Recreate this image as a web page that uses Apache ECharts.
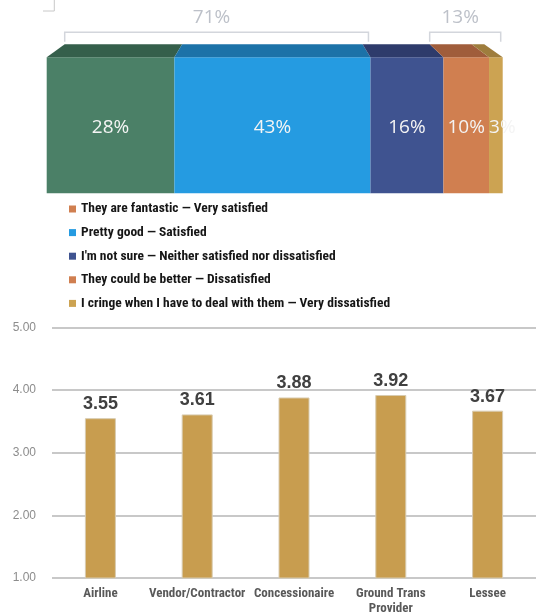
<!DOCTYPE html>
<html><head><meta charset="utf-8">
<script src="https://cdn.jsdelivr.net/npm/echarts@6/dist/echarts.min.js"></script>
<style>html,body{margin:0;padding:0;background:#fff}#c{width:536px;height:616px}</style>
</head><body><div id="c"></div>
<script>
// ---------- data ----------
const segNames = [
  'They are fantastic \u2014 Very satisfied',
  'Pretty good \u2014 Satisfied',
  "I'm not sure \u2014 Neither satisfied nor dissatisfied",
  'They could be better \u2014 Dissatisfied',
  'I cringe when I have to deal with them \u2014 Very dissatisfied'
];
const segValues = [28, 43, 16, 10, 3];
const bracketGroups = [[0, 1], [3, 4]];
const bracketValues = [71, 13];

const categories = ['Airline', 'Vendor/Contractor', 'Concessionaire', 'Ground Trans\nProvider', 'Lessee'];
const scores = [3.55, 3.61, 3.88, 3.92, 3.67];
const yMin = 1, yMax = 5, yStep = 1;

// ---------- styles ----------
const segColors = ['#4B8067', '#259BE1', '#3F5390', '#D07F50', '#CCA352'];
const segTopColors = ['#355F4B', '#1C72A8', '#2E3B6B', '#A05D3B', '#9E7D3D'];
const legendIconColors = ['#D07F50', '#259BE1', '#3F5390', '#D07F50', '#CCA352'];
const DEPTH = 13, SHIFT = 18, K = 0.92;
const NARROW = "'Liberation Sans Narrow','Roboto Condensed','DejaVu Sans Condensed','Arial Narrow',sans-serif";

const cum = []; let acc = 0;
segValues.forEach(v => { cum.push([acc, acc + v]); acc += v; });

const chart = echarts.init(document.getElementById('c'), null, {renderer: 'canvas'});

function backX(api, x) {
  const x0 = api.coord([0, 0])[0];
  return x0 + SHIFT + (x - x0) * K;
}

const barSeries = segNames.map((name, i) => ({
  type: 'bar', name, stack: 'total', xAxisIndex: 0, yAxisIndex: 0,
  barWidth: '100%', data: [segValues[i]],
  itemStyle: {color: segColors[i]},
  label: {show: false},
  emphasis: {disabled: true}, silent: true
}));

const topFaces = {
  type: 'custom', name: '_top', xAxisIndex: 0, yAxisIndex: 0, silent: true, z: 5,
  data: cum.map((c, i) => [c[0], c[1], 0, i, segValues[i]]),
  encode: {x: [0, 1], y: 2},
  renderItem(params, api) {
    const s = api.value(0), e = api.value(1), idx = api.value(3), v = api.value(4);
    const p1 = api.coord([s, 0]), p2 = api.coord([e, 0]);
    const h = api.size([0, 1])[1];
    const top = p1[1] - h / 2;
    const w = p2[0] - p1[0];
    const narrow = w < 30;
    return {type: 'group', children: [
      {type: 'polygon', shape: {points: [
        [p1[0], top], [p2[0], top], [backX(api, p2[0]), top - DEPTH], [backX(api, p1[0]), top - DEPTH]
      ]}, style: {fill: segTopColors[idx]}},
      {type: 'text', x: narrow ? p1[0] : (p1[0] + p2[0]) / 2, y: p1[1] + 2,
       style: {text: v + '%', fill: '#F4F4F4', fontSize: 19, fontFamily: 'Open Sans',
         align: narrow ? 'left' : 'center', verticalAlign: 'middle'}}
    ]};
  }
};

const brackets = {
  type: 'custom', name: '_brackets', xAxisIndex: 0, yAxisIndex: 0, silent: true,
  data: bracketGroups.map((g, i) => [cum[g[0]][0], cum[g[1]][1], 0, bracketValues[i]]),
  encode: {x: [0, 1], y: 2},
  renderItem(params, api) {
    const s = api.value(0), e = api.value(1), v = api.value(3);
    const p1 = api.coord([s, 0]), p2 = api.coord([e, 0]);
    const h = api.size([0, 1])[1];
    const top = p1[1] - h / 2 - DEPTH;
    const x1 = backX(api, p1[0]), x2 = p2[0] - 2;
    const yTick = top - 2.5, yLine = top - 12;
    return {type: 'group', children: [
      {type: 'polyline', shape: {points: [[x1, yTick], [x1, yLine], [x2, yLine], [x2, yTick]]},
       style: {stroke: '#D3D6DC', lineWidth: 1.5, fill: null}},
      {type: 'text', x: (x1 + x2) / 2 - 5, y: yLine - 15,
       style: {text: v + '%', fill: '#BDC1C9', fontSize: 19, fontFamily: 'Open Sans', align: 'center', verticalAlign: 'middle'}}
    ]};
  }
};

const option = {
  animation: false,
  backgroundColor: '#ffffff',
  graphic: [{type: 'polyline', shape: {points: [[43, 11], [54.3, 11], [54.3, 0]]},
    style: {stroke: '#C8C8C8', lineWidth: 1, fill: null}, silent: true}],
  legend: {
    orient: 'vertical', left: 69, top: 201, padding: 0, itemWidth: 7, itemHeight: 7, itemGap: 7.6,
    icon: 'rect', selectedMode: false,
    data: segNames.map((n, i) => ({name: n, itemStyle: {color: legendIconColors[i]}})),
    textStyle: {fontFamily: NARROW, fontWeight: 'bold', fontSize: 13.5, color: '#161616', lineHeight: 16}
  },
  grid: [
    {left: 46.7, top: 57.3, width: 456, height: 136},
    {left: 52, top: 327.3, width: 488, height: 252}
  ],
  xAxis: [
    {type: 'value', gridIndex: 0, min: 0, max: 100, show: false},
    {type: 'category', gridIndex: 1, data: categories,
     axisLine: {show: false}, axisTick: {show: false},
     axisLabel: {interval: 0, margin: 8, fontFamily: NARROW, fontWeight: 'bold', fontSize: 13,
       color: '#595959', lineHeight: 15}}
  ],
  yAxis: [
    {type: 'category', gridIndex: 0, data: ['all'], show: false},
    {type: 'value', gridIndex: 1, min: yMin, max: yMax, interval: yStep,
     axisLine: {show: false}, axisTick: {show: false},
     axisLabel: {formatter: v => v.toFixed(2), color: '#8C8C8C', fontSize: 12, margin: 16,
       fontFamily: 'Liberation Sans'},
     splitLine: {show: true, lineStyle: {color: '#C8C8C8', width: 2}}}
  ],
  series: [
    ...barSeries, topFaces, brackets,
    {type: 'bar', name: 'Score', xAxisIndex: 1, yAxisIndex: 1, data: scores, barWidth: 31, clip: true,
     itemStyle: {color: '#C89D4F', borderColor: '#D8CBB0', borderWidth: 1},
     label: {show: true, position: 'top', distance: 5, formatter: p => p.value.toFixed(2),
       fontSize: 18, fontWeight: 'bold', color: '#404040', fontFamily: 'Liberation Sans'},
     emphasis: {disabled: true}, silent: true}
  ]
};
chart.setOption(option);
</script>
</body></html>
